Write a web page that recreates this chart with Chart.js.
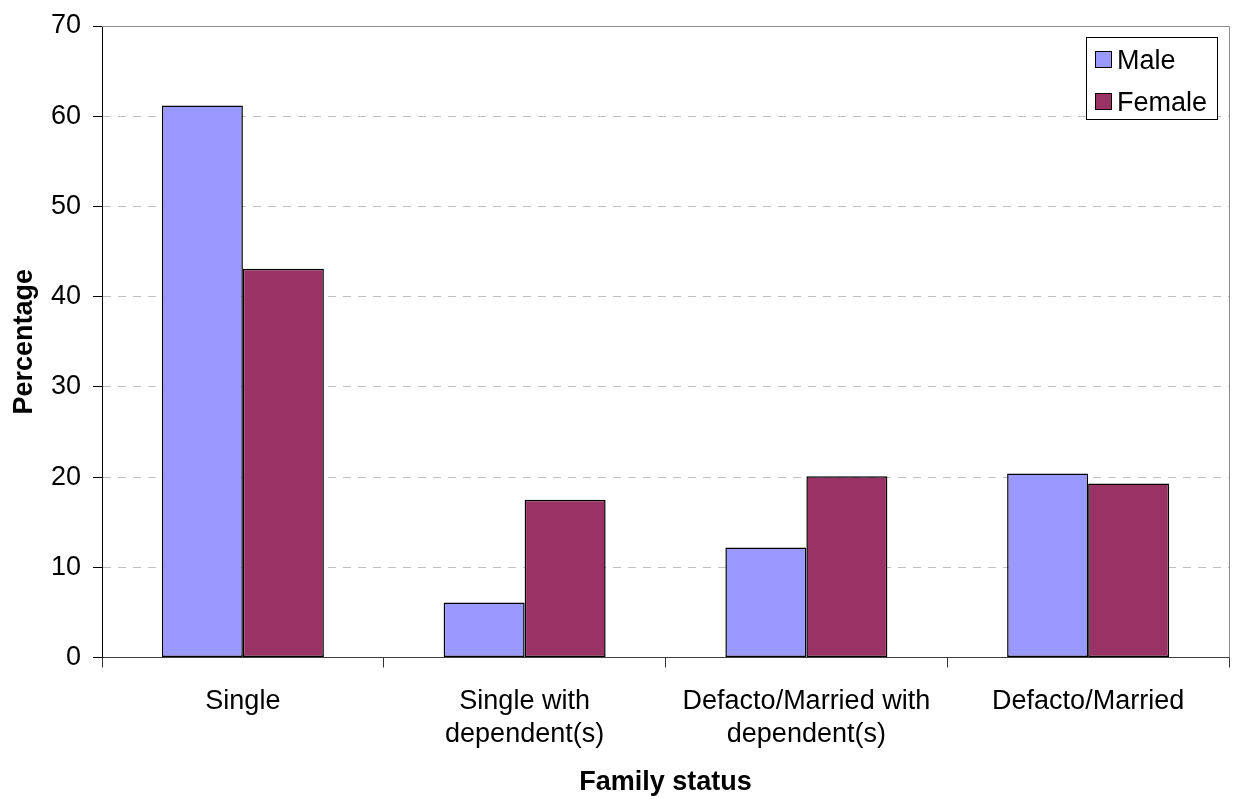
<!DOCTYPE html>
<html>
<head>
<meta charset="utf-8">
<script src="https://cdn.jsdelivr.net/npm/chart.js@4.4.1/dist/chart.umd.min.js"></script>
<style>
  html, body { margin: 0; padding: 0; background: #ffffff; }
  #wrap { width: 1235px; height: 799px; }
</style>
</head>
<body>
<div id="wrap"><canvas id="chart" width="1235" height="799"></canvas></div>
<script>
// Family status categories (multi-line labels)
const categories = [
  'Single',
  ['Single with', 'dependent(s)'],
  ['Defacto/Married with', 'dependent(s)'],
  'Defacto/Married'
];
const seriesNames = ['Male', 'Female'];
const maleValues = [61.2, 6.1, 12.2, 20.4];
const femaleValues = [43.1, 17.5, 20.1, 19.3];
const yTicks = [0, 10, 20, 30, 40, 50, 60, 70];

const FONT = "'Liberation Sans', Arial, Helvetica, sans-serif";
const colors = ['#9999FF', '#993366'];

// Plot area placement on the canvas
const PLOT = { top: 26, bottom: 657.5, left: 102, right: 1229 };

// Frame: grey top/right edges of the plot area
const framePlugin = {
  id: 'frame',
  afterDatasetsDraw(chart) {
    const { ctx, chartArea: a } = chart;
    ctx.save();
    ctx.strokeStyle = '#8c8c8c';
    ctx.lineWidth = 1;
    ctx.beginPath();
    ctx.moveTo(a.left, Math.round(a.top) + 0.5);
    ctx.lineTo(Math.round(a.right) + 0.5, Math.round(a.top) + 0.5);
    ctx.lineTo(Math.round(a.right) + 0.5, a.bottom);
    ctx.stroke();
    ctx.restore();
  }
};

// Boxed legend in the upper right of the plot area
const boxLegendPlugin = {
  id: 'boxLegend',
  afterDraw(chart) {
    const { ctx } = chart;
    const x = 1086.5, y = 37.5, w = 131, h = 82;
    ctx.save();
    ctx.fillStyle = '#ffffff';
    ctx.fillRect(x, y, w, h);
    ctx.strokeStyle = '#000000';
    ctx.lineWidth = 1;
    ctx.strokeRect(x, y, w, h);
    ctx.font = '27px ' + FONT;
    ctx.textBaseline = 'alphabetic';
    ctx.textAlign = 'left';
    chart.data.datasets.forEach((ds, i) => {
      const sy = 51 + i * 42;
      ctx.fillStyle = ds.backgroundColor;
      ctx.fillRect(1095, sy, 17, 17);
      ctx.strokeStyle = '#000000';
      ctx.strokeRect(1095.5, sy + 0.5, 16, 16);
      ctx.fillStyle = '#000000';
      ctx.fillText(ds.label, 1117, 69 + i * 42);
    });
    ctx.restore();
  }
};

new Chart(document.getElementById('chart'), {
  type: 'bar',
  data: {
    labels: categories,
    datasets: [
      { label: seriesNames[0], data: maleValues, backgroundColor: colors[0] },
      { label: seriesNames[1], data: femaleValues, backgroundColor: colors[1] }
    ]
  },
  options: {
    responsive: false,
    animation: false,
    devicePixelRatio: 1,
    layout: { padding: { top: PLOT.top, right: 1235 - PLOT.right, left: 0, bottom: 0 } },
    datasets: {
      bar: {
        categoryPercentage: 0.575,
        barPercentage: 1.0,
        borderColor: '#000000',
        borderWidth: 1.5,
        borderSkipped: false
      }
    },
    plugins: {
      legend: { display: false },
      tooltip: { enabled: false }
    },
    scales: {
      x: {
        afterFit(scale) { scale.height = 799 - PLOT.bottom; },
        grid: {
          display: true,
          offset: true,
          color: 'rgba(0,0,0,0)',
          drawTicks: true,
          tickLength: 10,
          tickColor: '#333333',
          tickWidth: 1
        },
        border: { display: true, color: '#404040', width: 1 },
        ticks: {
          color: '#000000',
          font: { family: FONT, size: 27, lineHeight: 1.22 },
          padding: 18,
          maxRotation: 0,
          autoSkip: false
        },
        title: {
          display: true,
          text: 'Family status',
          color: '#000000',
          font: { family: FONT, size: 27, weight: 'bold', lineHeight: 1.2 },
          padding: { top: 0, bottom: 0 }
        }
      },
      y: {
        min: 0,
        max: 70,
        afterFit(scale) {
          scale.width = PLOT.left;
          scale.paddingTop = 0;
          scale.paddingBottom = 0;
        },
        afterBuildTicks(scale) { scale.ticks = yTicks.map(v => ({ value: v })); },
        grid: {
          color: '#c0c0c0',
          lineWidth: 1,
          drawTicks: true,
          tickLength: 9,
          tickColor: '#000000',
          tickWidth: 1
        },
        border: { display: true, color: '#000000', width: 1, dash: [8, 7] },
        ticks: {
          color: '#000000',
          font: { family: FONT, size: 27 },
          padding: 12
        },
        title: {
          display: true,
          text: 'Percentage',
          color: '#000000',
          font: { family: FONT, size: 27, weight: 'bold', lineHeight: 1.2 },
          padding: { top: 8, bottom: 0 }
        }
      }
    }
  },
  plugins: [framePlugin, boxLegendPlugin]
});
</script>
</body>
</html>
